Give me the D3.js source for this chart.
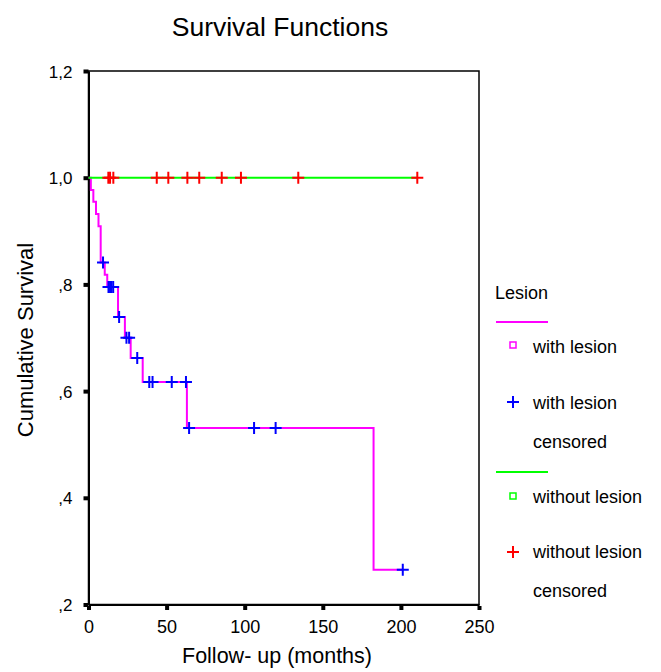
<!DOCTYPE html>
<html>
<head>
<meta charset="utf-8">
<script src="https://cdn.jsdelivr.net/npm/d3@7"></script>
<style>
  body { margin: 0; background: #fff; }
  text { font-family: "Liberation Sans", Arial, sans-serif; fill: #000; }
</style>
</head>
<body>
<svg width="661" height="672"></svg>
<script>
// Kaplan-Meier, group "with lesion": step times and survival after each step
var lesionTime = [0, 1.5, 3.1, 4.8, 6.4, 7.8, 10.4, 12.0, 18.9, 23.3, 27.0, 34.7, 63.0, 182.5];
var lesionSurv = [1, 0.977, 0.955, 0.932, 0.909, 0.841, 0.818, 0.795, 0.739, 0.700, 0.662, 0.617, 0.531, 0.265];
// censored cases, with lesion
var lesionCensT = [9.3, 12.8, 13.8, 14.6, 15.8, 19.6, 24.3, 26.0, 31.2, 38.9, 41.0, 53.3, 62.4, 64.4, 106, 119.8, 201.2];
var lesionCensS = [0.841, 0.795, 0.795, 0.795, 0.795, 0.739, 0.700, 0.700, 0.662, 0.617, 0.617, 0.617, 0.617, 0.531, 0.531, 0.531, 0.265];
// group "without lesion": no events, only censored cases
var noLesionTime = [0];
var noLesionSurv = [1];
var noLesionCensT = [12.7, 13.8, 15.9, 43.7, 51.1, 63.3, 70.9, 85.3, 97.6, 134.3, 210.5];
var noLesionCensS = [1, 1, 1, 1, 1, 1, 1, 1, 1, 1, 1];

var xTicks = [0, 50, 100, 150, 200, 250];
var yTicks = [0.2, 0.4, 0.6, 0.8, 1.0, 1.2];

var svg = d3.select("svg");

var x = d3.scaleLinear().domain([0, 250]).range([88.5, 479]);
var y = d3.scaleLinear().domain([0.2, 1.2]).range([604.5, 71]);

var fmtY = function(d) { return d3.format(".1f")(d).replace(/^0/, "").replace(".", ","); };

// title
svg.append("text")
    .attr("x", 280).attr("y", 36)
    .attr("text-anchor", "middle")
    .style("font-size", "26.5px")
    .text("Survival Functions");

// frame
svg.append("rect")
    .attr("x", x(0)).attr("y", y(1.2))
    .attr("width", x(250) - x(0)).attr("height", y(0.2) - y(1.2))
    .attr("fill", "none").attr("stroke", "#000").attr("stroke-width", 1.5);

// y axis
var gy = svg.append("g")
    .attr("transform", "translate(" + x(0) + ",0)")
    .call(d3.axisLeft(y).tickValues(yTicks).tickFormat(fmtY).tickSize(0).tickPadding(16));
gy.select(".domain").attr("stroke", "#000").attr("stroke-width", 2);
gy.selectAll(".tick text").style("font-size", "17px").attr("dy", "0.36em");
gy.selectAll(".tick").append("rect")
    .attr("x", -5).attr("y", -2).attr("width", 5).attr("height", 4).attr("fill", "#000");

// x axis
var gx = svg.append("g")
    .attr("transform", "translate(0," + y(0.2) + ")")
    .call(d3.axisBottom(x).tickValues(xTicks).tickSize(0).tickPadding(16));
gx.select(".domain").attr("stroke", "#000").attr("stroke-width", 2);
gx.selectAll(".tick text").style("font-size", "18px");
gx.selectAll(".tick").append("rect")
    .attr("x", -2).attr("y", 1.5).attr("width", 4).attr("height", 4).attr("fill", "#000");

// axis titles
svg.append("text")
    .attr("x", 277).attr("y", 663)
    .attr("text-anchor", "middle")
    .style("font-size", "21.5px")
    .text("Follow- up (months)");

svg.append("text")
    .attr("transform", "translate(33,340) rotate(-90)")
    .attr("text-anchor", "middle")
    .style("font-size", "22px")
    .text("Cumulative Survival");

// survival step lines
var step = d3.line()
    .x(function(d) { return x(d[0]); })
    .y(function(d) { return y(d[1]); })
    .curve(d3.curveStepAfter);

var lesionPts = lesionTime.map(function(t, i) { return [t, lesionSurv[i]]; });
lesionPts.push([lesionCensT[lesionCensT.length - 1], lesionSurv[lesionSurv.length - 1]]);
var noLesionPts = noLesionTime.map(function(t, i) { return [t, noLesionSurv[i]]; });
noLesionPts.push([noLesionCensT[noLesionCensT.length - 1], noLesionSurv[noLesionSurv.length - 1]]);

svg.append("path")
    .attr("fill", "none")
    .attr("stroke", "#ff00ff")
    .attr("stroke-width", 2)
    .attr("d", step(lesionPts));

svg.append("path")
    .attr("fill", "none")
    .attr("stroke", "#00ff00")
    .attr("stroke-width", 2)
    .attr("d", step(noLesionPts));

// censor marks
var plus = "M-6,0H6M0,-6V6";

svg.append("g").selectAll("path")
    .data(lesionCensT)
    .join("path")
    .attr("transform", function(d, i) { return "translate(" + x(d) + "," + y(lesionCensS[i]) + ")"; })
    .attr("d", plus)
    .attr("stroke", "#0000ff")
    .attr("stroke-width", 2)
    .attr("fill", "none");

svg.append("g").selectAll("path")
    .data(noLesionCensT)
    .join("path")
    .attr("transform", function(d, i) { return "translate(" + x(d) + "," + y(noLesionCensS[i]) + ")"; })
    .attr("d", plus)
    .attr("stroke", "#ff0000")
    .attr("stroke-width", 2)
    .attr("fill", "none");

// legend
var lg = svg.append("g");
lg.append("text").attr("x", 495).attr("y", 299).style("font-size", "18px").text("Lesion");

lg.append("line").attr("x1", 496).attr("x2", 548).attr("y1", 322).attr("y2", 322)
    .attr("stroke", "#ff00ff").attr("stroke-width", 2);
lg.append("rect").attr("x", 510).attr("y", 342).attr("width", 6).attr("height", 6)
    .attr("fill", "none").attr("stroke", "#ff00ff").attr("stroke-width", 1.5);
lg.append("text").attr("x", 533).attr("y", 353).style("font-size", "18px").text("with lesion");

lg.append("path").attr("transform", "translate(513,402)").attr("d", plus)
    .attr("stroke", "#0000ff").attr("stroke-width", 2);
lg.append("text").attr("x", 533).attr("y", 409).style("font-size", "18px").text("with lesion");
lg.append("text").attr("x", 533).attr("y", 448).style("font-size", "18px").text("censored");

lg.append("line").attr("x1", 496).attr("x2", 548).attr("y1", 472).attr("y2", 472)
    .attr("stroke", "#00ff00").attr("stroke-width", 2);
lg.append("rect").attr("x", 510).attr("y", 493).attr("width", 6).attr("height", 6)
    .attr("fill", "none").attr("stroke", "#00ff00").attr("stroke-width", 1.5);
lg.append("text").attr("x", 533).attr("y", 503).style("font-size", "18px").text("without lesion");

lg.append("path").attr("transform", "translate(513,552)").attr("d", plus)
    .attr("stroke", "#ff0000").attr("stroke-width", 2);
lg.append("text").attr("x", 533).attr("y", 558).style("font-size", "18px").text("without lesion");
lg.append("text").attr("x", 533).attr("y", 597).style("font-size", "18px").text("censored");
</script>
</body>
</html>
